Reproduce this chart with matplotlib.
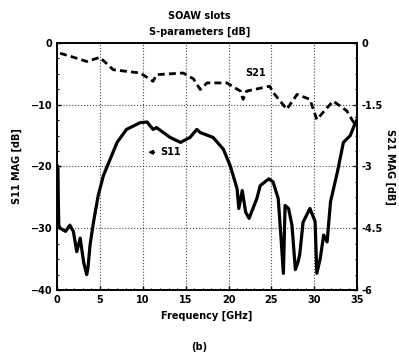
import matplotlib
matplotlib.use("Agg")
import matplotlib.pyplot as plt
from matplotlib.ticker import MultipleLocator

# S11 (left axis, dB)
f11 = [0.05, 0.1, 0.15, 0.2, 0.35, 1.0, 1.5, 1.9, 2.3, 2.7, 3.1, 3.46, 3.6, 3.85,
       4.25, 4.8, 5.4, 6.2, 7.0, 8.1, 9.7, 10.5, 11.2, 11.6, 13.2, 14.4, 15.5,
       16.3, 16.7, 18.2, 19.4, 20.2, 21.0, 21.2, 21.6, 22.0, 22.4, 23.3, 23.7,
       24.7, 25.2, 25.8, 26.1, 26.4, 26.6, 27.0, 27.4, 27.8, 28.1, 28.3, 28.7,
       29.5, 30.1, 30.3, 30.7, 31.1, 31.5, 31.9, 32.7, 33.4, 34.2, 34.8, 35.0]
s11 = [-19.9, -20.0, -26.0, -29.5, -30.0, -30.5, -29.5, -30.5, -33.8, -31.6, -35.5,
       -37.5, -36.5, -32.7, -29.0, -24.7, -21.5, -18.8, -16.1, -14.0, -12.9, -12.8,
       -14.0, -13.7, -15.3, -16.1, -15.3, -14.0, -14.5, -15.3, -17.2, -19.9, -23.6,
       -26.8, -23.9, -27.4, -28.4, -25.2, -23.1, -22.0, -22.5, -25.2, -31.0, -37.3,
       -26.3, -26.8, -29.5, -36.7, -35.5, -34.3, -29.0, -26.8, -28.9, -37.3, -34.9,
       -31.1, -32.2, -25.7, -20.9, -16.1, -15.0, -12.9, -12.4]

# S21 (right axis, dB)
f21 = [0.35, 1.5, 3.46, 5.0, 6.55, 9.7, 11.2, 11.6, 14.7, 15.9, 16.7, 17.5, 19.8,
       21.4, 21.7, 22.1, 24.8, 25.2, 26.8, 28.0, 29.5, 30.3, 32.2, 33.8, 34.6, 35.0]
s21 = [-0.25, -0.32, -0.45, -0.35, -0.65, -0.73, -0.93, -0.77, -0.73, -0.87, -1.13,
       -0.97, -0.97, -1.17, -1.37, -1.17, -1.05, -1.2, -1.61, -1.25, -1.37, -1.86,
       -1.41, -1.65, -1.93, -1.8]

xticks = [0, 5, 10, 15, 20, 25, 30, 35]
left_ticks = [0, -10, -20, -30, -40]
right_ticks = [0, -1.5, -3, -4.5, -6]

plt.rcParams['font.family'] = ['DejaVu Sans']
plt.rcParams['font.weight'] = 'bold'
plt.rcParams['font.size'] = 7

fig = plt.figure(figsize=(3.99, 3.55), dpi=100)
ax = fig.add_axes([0.143, 0.183, 0.752, 0.696])
ax2 = ax.twinx()

ax.plot(f11, s11, color='black', lw=2.3)
ax2.plot(f21, s21, color='black', lw=2.0, linestyle=(0, (2.5, 1.5)))

ax.set_xlim(0, 35)
ax.set_ylim(-40, 0)
ax2.set_ylim(-6, 0)
ax.set_xticks(xticks)
ax.set_yticks(left_ticks)
ax2.set_yticks(right_ticks)
ax2.set_yticklabels(['0', '-1.5', '-3', '-4.5', '-6'])
ax.xaxis.set_minor_locator(MultipleLocator(1))
ax.yaxis.set_minor_locator(MultipleLocator(2.5))
ax2.yaxis.set_minor_locator(MultipleLocator(0.375))

for a in (ax, ax2):
    a.tick_params(direction='in', length=3, width=1, labelsize=7)
    a.tick_params(which='minor', direction='in', length=1.5, width=0.8)
    for s in a.spines.values():
        s.set_linewidth(1.2)

ax.grid(True, which='major', linestyle=':', color='black', lw=0.8, alpha=0.7)

ax.set_xlabel('Frequency [GHz]', fontsize=7, fontweight='bold')
ax.set_ylabel('S11 MAG [dB]', fontsize=7, fontweight='bold', labelpad=6)
ax2.set_ylabel('S21 MAG [dB]', fontsize=7, fontweight='bold', rotation=270, labelpad=9)

fig.text(0.5, 0.955, 'SOAW slots', ha='center', va='center', fontsize=7, fontweight='bold')
fig.text(0.5, 0.91, 'S-parameters [dB]', ha='center', va='center', fontsize=7, fontweight='bold')
fig.text(0.5, 0.022, '(b)', ha='center', va='center', fontsize=7)

ax.annotate('S11', xy=(10.3, -17.7), xytext=(12.0, -17.7), va='center',
            fontsize=7, fontweight='bold',
            arrowprops=dict(arrowstyle='-|>', color='black', lw=1.2, mutation_scale=6))
ax2.text(22.0, -0.72, 'S21', va='center', fontsize=7, fontweight='bold')

fig.savefig('out.png', dpi=100)
